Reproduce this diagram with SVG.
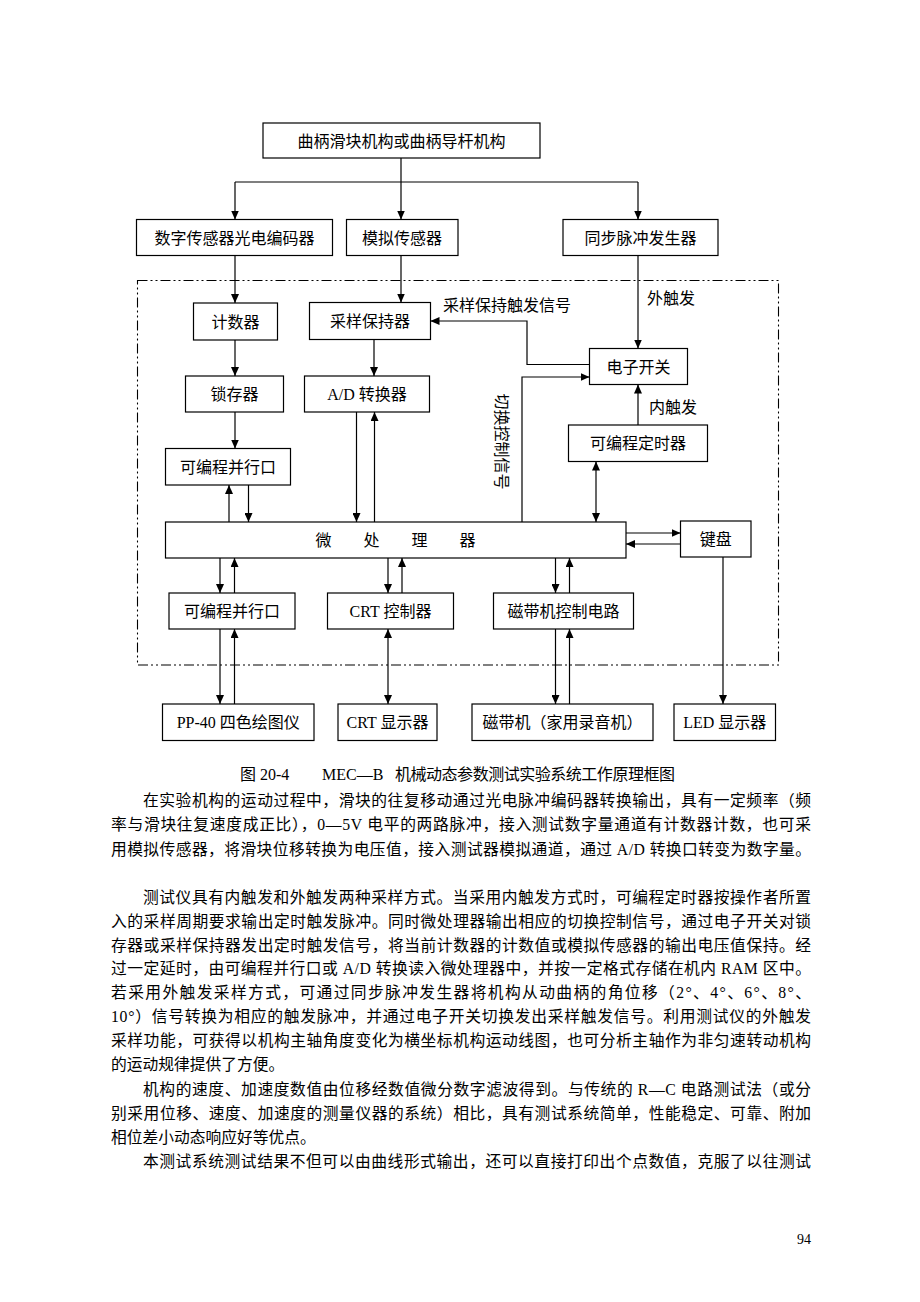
<svg xmlns="http://www.w3.org/2000/svg" width="920" height="1302" viewBox="0 0 920 1302">
<style>
.box{fill:#fff;stroke:#000;stroke-width:1.2}
.t{font-family:"Liberation Serif","Noto Sans CJK SC",serif;font-size:16px;fill:#000;text-anchor:middle}
.lb{font-family:"Liberation Serif","Noto Sans CJK SC",serif;font-size:16px;fill:#000}
.c{fill:none;stroke:#000;stroke-width:1.2}
.a{marker-end:url(#ah)}
.b{marker-start:url(#ah);marker-end:url(#ah)}
.dash{fill:none;stroke:#000;stroke-width:1.1;stroke-dasharray:10 3 2 3 2 3}
.body{font-family:"Liberation Serif","Noto Sans CJK SC",serif;font-size:15.75px;fill:#000}
</style>
<defs>
<marker id="ah" viewBox="0 0 9 8" refX="9" refY="4" markerWidth="9" markerHeight="8" markerUnits="userSpaceOnUse" orient="auto-start-reverse"><path d="M0,0 L9,4 L0,8 z" fill="#000"/></marker>
</defs>
<rect width="920" height="1302" fill="#fff"/>

<g id="boundary"><rect class="dash" x="137.5" y="280.5" width="641" height="384.5"/></g>

<g id="connectors">
<path class="c a" d="M401,158 V219.5"/>
<path class="c" d="M235,182 H638"/>
<path class="c a" d="M235,182 V219.5"/>
<path class="c a" d="M638,182 V219.5"/>
<path class="c a" d="M235,255.5 V303"/>
<path class="c a" d="M401,255.5 V302.5"/>
<path class="c a" d="M638,255.5 V348.5"/>
<path class="c a" d="M235,340 V376"/>
<path class="c a" d="M235,412 V448.5"/>
<path class="c a" d="M374,339.5 V376"/>
<path class="c a" d="M229,522 V485"/>
<path class="c a" d="M248.5,485 V522"/>
<path class="c a" d="M356.5,412 V522"/>
<path class="c a" d="M374.5,522 V412"/>
<path class="c a" d="M589.5,364.5 H527 V321 H430.5"/>
<path class="c a" d="M522,522 V377 H589.5"/>
<path class="c a" d="M638,425 V384.5"/>
<path class="c b" d="M596,461.5 V522"/>
<path class="c a" d="M626,533 H680.5"/>
<path class="c a" d="M680.5,544 H626"/>
<path class="c a" d="M220,558 V593"/>
<path class="c a" d="M234.5,593 V558"/>
<path class="c a" d="M388,558 V593"/>
<path class="c a" d="M402,593 V558"/>
<path class="c a" d="M555.5,558 V593"/>
<path class="c a" d="M569.5,593 V558"/>
<path class="c a" d="M220,629 V704"/>
<path class="c a" d="M234.5,704 V629"/>
<path class="c b" d="M388,629 V704"/>
<path class="c a" d="M555.5,629 V704"/>
<path class="c a" d="M569.5,704 V629"/>
<path class="c a" d="M723,557 V704"/>
<text class="lb" x="443" y="311">采样保持触发信号</text>
<text class="lb" x="647" y="304">外触发</text>
<text class="lb" x="649" y="413">内触发</text>
<text class="lb" transform="translate(501.7,441.5) rotate(90)" x="0" y="6" text-anchor="middle">切换控制信号</text>
</g>

<g id="n-mechanism"><rect class="box" x="263" y="123" width="277" height="35"/><text class="t" x="401.5" y="146.5">曲柄滑块机构或曲柄导杆机构</text></g>
<g id="n-encoder"><rect class="box" x="136.5" y="219.5" width="196" height="36"/><text class="t" x="234.5" y="243.5">数字传感器光电编码器</text></g>
<g id="n-analog"><rect class="box" x="346.5" y="219.5" width="111.5" height="36"/><text class="t" x="402" y="243.5">模拟传感器</text></g>
<g id="n-sync"><rect class="box" x="563" y="219.5" width="155" height="36"/><text class="t" x="640.5" y="243.5">同步脉冲发生器</text></g>
<g id="n-counter"><rect class="box" x="193.5" y="303" width="84" height="37"/><text class="t" x="235.5" y="327.5">计数器</text></g>
<g id="n-sh"><rect class="box" x="309.5" y="302.5" width="121" height="37"/><text class="t" x="370" y="327">采样保持器</text></g>
<g id="n-latch"><rect class="box" x="185.5" y="376" width="98" height="36"/><text class="t" x="234.5" y="400">锁存器</text></g>
<g id="n-adc"><rect class="box" x="304.5" y="376" width="125" height="36"/><text class="t" x="367" y="400">A/D 转换器</text></g>
<g id="n-pio1"><rect class="box" x="165.5" y="448.5" width="125" height="36.5"/><text class="t" x="228" y="472.75">可编程并行口</text></g>
<g id="n-switch"><rect class="box" x="589.5" y="348.5" width="98" height="36"/><text class="t" x="638.5" y="372.5">电子开关</text></g>
<g id="n-timer"><rect class="box" x="568.5" y="425" width="139" height="36.5"/><text class="t" x="638" y="449.25">可编程定时器</text></g>
<g id="n-cpu"><rect class="box" x="165.5" y="522" width="460.5" height="36"/><text class="t" x="395.5" y="546">微　　处　　理　　器</text></g>
<g id="n-keyboard"><rect class="box" x="680.5" y="521" width="70.5" height="36"/><text class="t" x="715.75" y="545">键盘</text></g>
<g id="n-pio2"><rect class="box" x="169" y="593" width="126" height="36"/><text class="t" x="232" y="617">可编程并行口</text></g>
<g id="n-crtc"><rect class="box" x="327.5" y="593" width="126" height="36"/><text class="t" x="390.5" y="617">CRT 控制器</text></g>
<g id="n-tapec"><rect class="box" x="493.5" y="593" width="140" height="36"/><text class="t" x="563.5" y="617">磁带机控制电路</text></g>
<g id="n-plotter"><rect class="box" x="162.5" y="704" width="151.5" height="36.5"/><text class="t" x="238.25" y="728">PP-40 四色绘图仪</text></g>
<g id="n-crt"><rect class="box" x="338" y="704" width="99" height="36.5"/><text class="t" x="387.5" y="728">CRT 显示器</text></g>
<g id="n-tape"><rect class="box" x="472" y="704" width="181" height="36.5"/><text class="t" x="562.5" y="728">磁带机（家用录音机）</text></g>
<g id="n-led"><rect class="box" x="674" y="704" width="101.5" height="36.5"/><text class="t" x="724.75" y="728">LED 显示器</text></g>

<g id="caption">
<text class="lb" x="240" y="780">图 20-4</text>
<text class="lb" x="322" y="780">MEC—B</text>
<text class="lb" x="395" y="780" textLength="280" lengthAdjust="spacing">机械动态参数测试实验系统工作原理框图</text>
</g>

<g id="body-text" class="body">
<text x="143" y="806" textLength="668" lengthAdjust="spacing">在实验机构的运动过程中，滑块的往复移动通过光电脉冲编码器转换输出，具有一定频率（频</text>
<text x="111" y="830" textLength="700" lengthAdjust="spacing">率与滑块往复速度成正比），0—5V 电平的两路脉冲，接入测试数字量通道有计数器计数，也可采</text>
<text x="111" y="854.5" textLength="700" lengthAdjust="spacing">用模拟传感器，将滑块位移转换为电压值，接入测试器模拟通道，通过 A/D 转换口转变为数字量。</text>
<text x="143" y="902.5" textLength="668" lengthAdjust="spacing">测试仪具有内触发和外触发两种采样方式。当采用内触发方式时，可编程定时器按操作者所置</text>
<text x="111" y="926.5" textLength="700" lengthAdjust="spacing">入的采样周期要求输出定时触发脉冲。同时微处理器输出相应的切换控制信号，通过电子开关对锁</text>
<text x="111" y="950.5" textLength="700" lengthAdjust="spacing">存器或采样保持器发出定时触发信号，将当前计数器的计数值或模拟传感器的输出电压值保持。经</text>
<text x="111" y="974" textLength="700" lengthAdjust="spacing">过一定延时，由可编程并行口或 A/D 转换读入微处理器中，并按一定格式存储在机内 RAM 区中。</text>
<text x="111" y="998" textLength="700" lengthAdjust="spacing">若采用外触发采样方式，可通过同步脉冲发生器将机构从动曲柄的角位移（2°、4°、6°、8°、</text>
<text x="111" y="1022" textLength="700" lengthAdjust="spacing">10°）信号转换为相应的触发脉冲，并通过电子开关切换发出采样触发信号。利用测试仪的外触发</text>
<text x="111" y="1046" textLength="700" lengthAdjust="spacing">采样功能，可获得以机构主轴角度变化为横坐标机构运动线图，也可分析主轴作为非匀速转动机构</text>
<text x="111" y="1070">的运动规律提供了方便。</text>
<text x="143" y="1095" textLength="668" lengthAdjust="spacing">机构的速度、加速度数值由位移经数值微分数字滤波得到。与传统的 R—C 电路测试法（或分</text>
<text x="111" y="1119" textLength="700" lengthAdjust="spacing">别采用位移、速度、加速度的测量仪器的系统）相比，具有测试系统简单，性能稳定、可靠、附加</text>
<text x="111" y="1143">相位差小动态响应好等优点。</text>
<text x="143" y="1167" textLength="668" lengthAdjust="spacing">本测试系统测试结果不但可以由曲线形式输出，还可以直接打印出个点数值，克服了以往测试</text>
<text x="797" y="1244" style="font-size:14px">94</text>
</g>
</svg>
